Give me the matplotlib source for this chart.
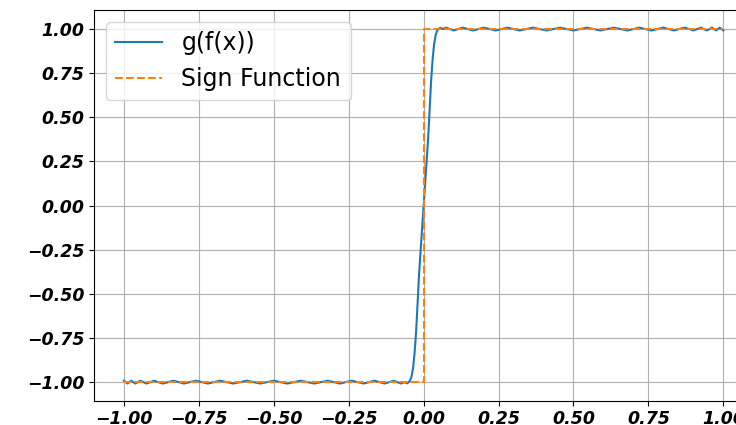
import matplotlib
matplotlib.use("Agg")
import matplotlib.pyplot as plt

# g(f(x)) (odd-symmetric composite polynomial approximation)
gx = [-1.000, -0.994, -0.988, -0.982, -0.976, -0.969, -0.962, -0.954, -0.945, -0.935,
      -0.925, -0.913, -0.900, -0.886, -0.870, -0.853, -0.835, -0.817, -0.800, -0.780,
      -0.760, -0.740, -0.720, -0.700, -0.680, -0.657, -0.635, -0.612, -0.590, -0.567,
      -0.545, -0.522, -0.500, -0.477, -0.455, -0.432, -0.410, -0.387, -0.365, -0.342,
      -0.320, -0.300, -0.280, -0.260, -0.240, -0.220, -0.200, -0.182, -0.165, -0.147,
      -0.130, -0.115, -0.100, -0.087, -0.075, -0.064, -0.055, -0.050, -0.045, -0.040,
      -0.035, -0.030, -0.025, -0.020, -0.015, -0.010, -0.005, 0.000,
      0.005, 0.010, 0.015, 0.020, 0.025, 0.030, 0.035, 0.040, 0.045, 0.050,
      0.055, 0.064, 0.075, 0.087, 0.100, 0.115, 0.130, 0.147, 0.165, 0.182,
      0.200, 0.220, 0.240, 0.260, 0.280, 0.300, 0.320, 0.342, 0.365, 0.387,
      0.410, 0.432, 0.455, 0.477, 0.500, 0.522, 0.545, 0.567, 0.590, 0.612,
      0.635, 0.657, 0.680, 0.700, 0.720, 0.740, 0.760, 0.780, 0.800, 0.817,
      0.835, 0.853, 0.870, 0.886, 0.900, 0.913, 0.925, 0.935, 0.945, 0.954,
      0.962, 0.969, 0.976, 0.982, 0.988, 0.994, 1.000]
gy = [-0.992, -1.000, -1.008, -1.000, -0.992, -1.000, -1.008, -1.000, -0.992, -1.000,
      -1.008, -1.000, -0.992, -1.000, -1.008, -1.000, -0.992, -1.000, -1.008, -1.000,
      -0.992, -1.000, -1.008, -1.000, -0.992, -1.000, -1.008, -1.000, -0.992, -1.000,
      -1.008, -1.000, -0.992, -1.000, -1.008, -1.000, -0.992, -1.000, -1.008, -1.000,
      -0.992, -1.000, -1.008, -1.000, -0.992, -1.000, -1.008, -1.000, -0.992, -1.000,
      -1.008, -1.000, -0.992, -1.000, -1.008, -1.000, -1.007, -1.000, -0.990, -0.965,
      -0.915, -0.830, -0.710, -0.550, -0.380, -0.250, -0.125, 0.000,
      0.125, 0.250, 0.380, 0.550, 0.710, 0.830, 0.915, 0.965, 0.990, 1.000,
      1.007, 1.000, 1.008, 1.000, 0.992, 1.000, 1.008, 1.000, 0.992, 1.000,
      1.008, 1.000, 0.992, 1.000, 1.008, 1.000, 0.992, 1.000, 1.008, 1.000,
      0.992, 1.000, 1.008, 1.000, 0.992, 1.000, 1.008, 1.000, 0.992, 1.000,
      1.008, 1.000, 0.992, 1.000, 1.008, 1.000, 0.992, 1.000, 1.008, 1.000,
      0.992, 1.000, 1.008, 1.000, 0.992, 1.000, 1.008, 1.000, 0.992, 1.000,
      1.008, 1.000, 0.992, 1.000, 1.008, 1.000, 0.992]

# sign function
sx = [-1.0, 0.0, 0.0, 1.0]
sy = [-1.0, -1.0, 1.0, 1.0]

ticks = [-1.0, -0.75, -0.5, -0.25, 0.0, 0.25, 0.5, 0.75, 1.0]

fig = plt.figure(figsize=(7.36, 4.25), dpi=100)
ax = fig.add_axes([94 / 736, 24 / 425, 659.3 / 736, 391 / 425])
ax.plot(gx, gy, color="#1f77b4", lw=1.5, label="g(f(x))")
ax.plot(sx, sy, color="#ff7f0e", lw=1.5, ls="--", label="Sign Function")
ax.set_xlim(-1.1, 1.1)
ax.set_ylim(-1.107, 1.108)
ax.set_xticks(ticks)
ax.set_yticks(ticks)
ax.tick_params(axis="x", pad=2.8)
for lab in ax.get_xticklabels() + ax.get_yticklabels():
    lab.set_fontweight("bold")
    lab.set_fontstyle("italic")
    lab.set_fontsize(12.5)
ax.grid(True)
ax.legend(loc="upper left", fontsize=17)
fig.savefig("out.png", dpi=100)
